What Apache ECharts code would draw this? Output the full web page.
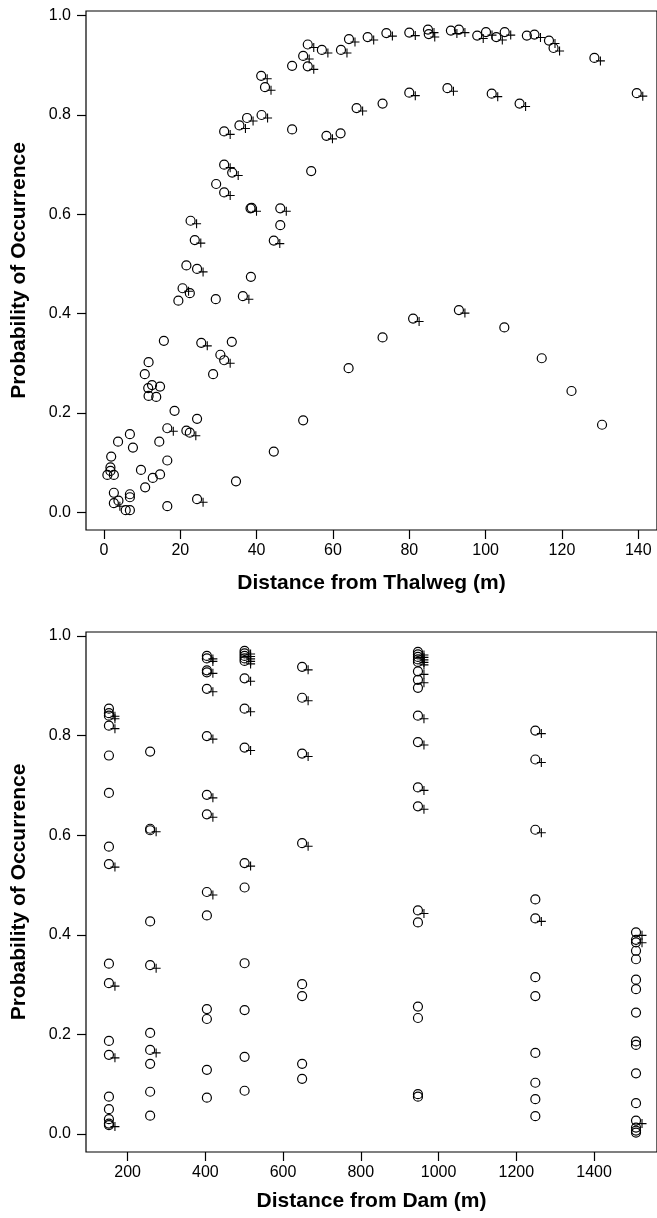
<!DOCTYPE html>
<html>
<head>
<meta charset="utf-8">
<script src="https://cdn.jsdelivr.net/npm/echarts@6/dist/echarts.min.js"></script>
<style>
    html, body { margin: 0; padding: 0; background: #fff; }
    #chart { width: 657px; height: 1218px; }
</style>
</head>
<body>
<div id="chart"></div>
<script>
// top panel: distance from thalweg (m), probability, 1 = also marked with "+"
var thalwegDist = [41.2, 42.2, 41.3, 37.5, 35.5, 31.5, 49.3, 31.5, 33.6, 29.4, 31.5, 38.4, 38.7, 46.2, 46.2,
    22.7, 23.8, 44.5, 21.6, 24.4, 38.5, 20.6, 22.5, 19.5, 29.3, 36.4, 15.7, 25.5, 33.5, 30.5,
    31.5, 28.6, 11.7, 10.7, 12.6, 11.6, 14.7, 11.7, 13.7, 18.5, 16.6, 21.6, 22.5, 24.4, 6.8,
    3.7, 7.6, 14.5, 1.9, 44.5, 16.6, 1.7, 1.7, 0.9, 2.6, 9.7, 12.8, 14.7, 10.8, 2.6,
    6.8, 6.8, 3.8, 2.6, 5.7, 6.8, 16.6, 24.4, 34.6, 49.3, 53.4, 52.2, 53.4, 57.1, 62.1,
    64.2, 69.1, 74.0, 80.0, 84.9, 85.1, 90.9, 93.0, 97.8, 100.1, 102.8, 105.0, 110.8, 112.8, 116.6,
    117.8, 128.5, 58.3, 62.0, 66.2, 73.0, 80.0, 90.0, 101.6, 108.9, 139.6, 54.3, 52.2, 64.1, 73.0,
    81.0, 93.0, 104.9, 114.7, 122.5, 130.5];
var thalwegProb = [0.879, 0.856, 0.800, 0.794, 0.779, 0.767, 0.771, 0.700, 0.684, 0.661, 0.644, 0.612, 0.613, 0.612, 0.578,
    0.587, 0.548, 0.547, 0.497, 0.490, 0.474, 0.451, 0.441, 0.426, 0.429, 0.435, 0.345, 0.341, 0.343, 0.317,
    0.306, 0.278, 0.302, 0.278, 0.256, 0.250, 0.253, 0.234, 0.232, 0.204, 0.169, 0.164, 0.160, 0.188, 0.157,
    0.142, 0.130, 0.142, 0.112, 0.122, 0.104, 0.090, 0.083, 0.075, 0.075, 0.085, 0.069, 0.076, 0.050, 0.039,
    0.036, 0.030, 0.023, 0.018, 0.004, 0.004, 0.012, 0.026, 0.062, 0.899, 0.942, 0.919, 0.898, 0.931, 0.931,
    0.953, 0.957, 0.965, 0.966, 0.972, 0.963, 0.970, 0.972, 0.960, 0.967, 0.957, 0.967, 0.960, 0.962, 0.950,
    0.935, 0.915, 0.758, 0.763, 0.814, 0.823, 0.845, 0.854, 0.843, 0.823, 0.844, 0.687, 0.185, 0.290, 0.352,
    0.390, 0.407, 0.372, 0.310, 0.244, 0.176];
var thalwegPlus = [1, 1, 1, 1, 1, 1, 0, 1, 1, 0, 1, 1, 0, 1, 0,
    1, 1, 1, 0, 1, 0, 1, 0, 0, 0, 1, 0, 1, 0, 0,
    1, 0, 0, 0, 0, 0, 0, 0, 0, 0, 1, 0, 1, 0, 0,
    0, 0, 0, 0, 0, 0, 0, 0, 0, 0, 0, 0, 0, 0, 0,
    0, 0, 0, 1, 0, 0, 0, 1, 0, 0, 1, 1, 1, 1, 1,
    1, 1, 1, 1, 1, 1, 1, 1, 1, 1, 1, 1, 0, 1, 1,
    1, 1, 1, 0, 1, 0, 1, 1, 1, 1, 1, 0, 0, 0, 0,
    1, 1, 0, 0, 0, 0];

// bottom panel: distance from dam (m)
var damDist = [152, 152, 152, 152, 152, 152, 152, 152, 152, 152, 152, 152, 152, 152, 152, 152, 152,
    258, 258, 258, 258, 258, 258, 258, 258, 258, 258,
    404, 404, 404, 404, 404, 404, 404, 404, 404, 404, 404, 404, 404, 404,
    501, 501, 501, 501, 501, 501, 501, 501, 501, 501, 501, 501, 501, 501,
    649, 649, 649, 649, 649, 649, 649, 649,
    947, 947, 947, 947, 947, 947, 947, 947, 947, 947, 947, 947, 947, 947, 947, 947, 947, 947,
    1249, 1249, 1249, 1249, 1249, 1249, 1249, 1249, 1249, 1249, 1249,
    1508, 1508, 1508, 1508, 1508, 1508, 1508, 1508, 1508, 1508, 1508, 1508, 1508, 1508, 1508, 1508];
var damProb = [0.854, 0.845, 0.840, 0.820, 0.760, 0.685, 0.577, 0.542, 0.342, 0.303, 0.187, 0.159, 0.075, 0.050, 0.030, 0.018, 0.021,
    0.768, 0.613, 0.610, 0.427, 0.339, 0.203, 0.169, 0.141, 0.085, 0.037,
    0.960, 0.955, 0.931, 0.927, 0.894, 0.799, 0.681, 0.642, 0.486, 0.439, 0.251, 0.231, 0.129, 0.073,
    0.970, 0.965, 0.960, 0.955, 0.950, 0.915, 0.854, 0.776, 0.544, 0.495, 0.343, 0.249, 0.155, 0.087,
    0.938, 0.876, 0.764, 0.584, 0.301, 0.277, 0.141, 0.111,
    0.968, 0.963, 0.958, 0.953, 0.948, 0.929, 0.912, 0.896, 0.840, 0.787, 0.696, 0.658, 0.449, 0.425, 0.256, 0.233, 0.080, 0.075,
    0.810, 0.752, 0.611, 0.471, 0.433, 0.315, 0.277, 0.163, 0.103, 0.070, 0.036,
    0.405, 0.390, 0.385, 0.368, 0.351, 0.310, 0.291, 0.244, 0.186, 0.179, 0.122, 0.062, 0.027, 0.013, 0.007, 0.003];
var damPlus = [0, 1, 1, 1, 0, 0, 0, 1, 0, 1, 0, 1, 0, 0, 0, 0, 1,
    0, 1, 0, 0, 1, 0, 1, 0, 0, 0,
    1, 1, 1, 0, 1, 1, 1, 1, 1, 0, 0, 0, 0, 0,
    1, 1, 1, 1, 1, 1, 1, 1, 1, 0, 0, 0, 0, 0,
    1, 1, 1, 1, 0, 0, 0, 0,
    1, 1, 1, 1, 1, 1, 1, 0, 1, 1, 1, 1, 1, 0, 0, 0, 0, 0,
    1, 1, 1, 0, 1, 0, 0, 0, 0, 0, 0,
    1, 1, 0, 0, 0, 0, 0, 0, 0, 0, 0, 0, 1, 0, 0, 0];

var probTicks = [0, 0.2, 0.4, 0.6, 0.8, 1.0];
var thalwegTicks = [0, 20, 40, 60, 80, 100, 120, 140];
var damTicks = [200, 400, 600, 800, 1000, 1200, 1400];

var plusPath = 'path://M0.44,0 H0.56 V0.44 H1 V0.56 H0.56 V1 H0.44 V0.56 H0 V0.44 H0.44 Z';
var font = 'Liberation Sans, Arial, sans-serif';

function pairs(xs, ys, flags) {
    var out = [];
    for (var i = 0; i < xs.length; i++) {
        if (!flags || flags[i]) out.push([xs[i], ys[i]]);
    }
    return out;
}

function xAxisFor(idx, min, max, ticks, name, gap) {
    return {
        gridIndex: idx, type: 'value', min: min, max: max,
        name: name, nameLocation: 'middle', nameGap: gap,
        nameTextStyle: { fontFamily: font, fontWeight: 'bold', fontSize: 21, color: '#000' },
        axisLine: { show: false, onZero: false },
        axisTick: { show: true, inside: false, length: 9, customValues: ticks, lineStyle: { color: '#000', width: 1.2 } },
        axisLabel: {
            customValues: ticks, margin: 13, fontFamily: font, fontSize: 16, color: '#000',
            formatter: function (v) { return String(v); }
        },
        splitLine: { show: false }
    };
}

function yAxisFor(idx, min, max) {
    return {
        gridIndex: idx, type: 'value', min: min, max: max,
        name: 'Probability of Occurrence', nameLocation: 'middle', nameGap: 56,
        nameTextStyle: { fontFamily: font, fontWeight: 'bold', fontSize: 21, color: '#000' },
        axisLine: { show: false, onZero: false },
        axisTick: { show: true, inside: false, length: 9, customValues: probTicks, lineStyle: { color: '#000', width: 1.2 } },
        axisLabel: {
            customValues: probTicks, margin: 15, fontFamily: font, fontSize: 16, color: '#000',
            formatter: function (v) { return v.toFixed(1); }
        },
        splitLine: { show: false }
    };
}

function circles(idx, data) {
    return {
        type: 'scatter', xAxisIndex: idx, yAxisIndex: idx, data: data,
        symbol: 'circle', symbolSize: 9, silent: true,
        itemStyle: { color: 'rgba(0,0,0,0)', borderColor: '#000', borderWidth: 1.2, opacity: 1 }
    };
}

function pluses(idx, data) {
    return {
        type: 'scatter', xAxisIndex: idx, yAxisIndex: idx, data: data,
        symbol: plusPath, symbolSize: 9, symbolOffset: [6, 3], silent: true,
        itemStyle: { color: '#000', opacity: 1 }
    };
}

var chart = echarts.init(document.getElementById('chart'), null, { renderer: 'canvas' });
chart.setOption({
    animation: false,
    backgroundColor: '#fff',
    grid: [
        { left: 86, top: 11, width: 573, height: 519, show: true, borderColor: '#000', borderWidth: 1.2 },
        { left: 86, top: 632, width: 573, height: 520, show: true, borderColor: '#000', borderWidth: 1.2 }
    ],
    xAxis: [
        xAxisFor(0, -4.7, 144.9, thalwegTicks, 'Distance from Thalweg (m)', 43),
        xAxisFor(1, 93, 1562, damTicks, 'Distance from Dam (m)', 39)
    ],
    yAxis: [
        yAxisFor(0, -0.036, 1.0095),
        yAxisFor(1, -0.036, 1.008)
    ],
    series: [
        circles(0, pairs(thalwegDist, thalwegProb)),
        pluses(0, pairs(thalwegDist, thalwegProb, thalwegPlus)),
        circles(1, pairs(damDist, damProb)),
        pluses(1, pairs(damDist, damProb, damPlus))
    ]
});
</script>
</body>
</html>
